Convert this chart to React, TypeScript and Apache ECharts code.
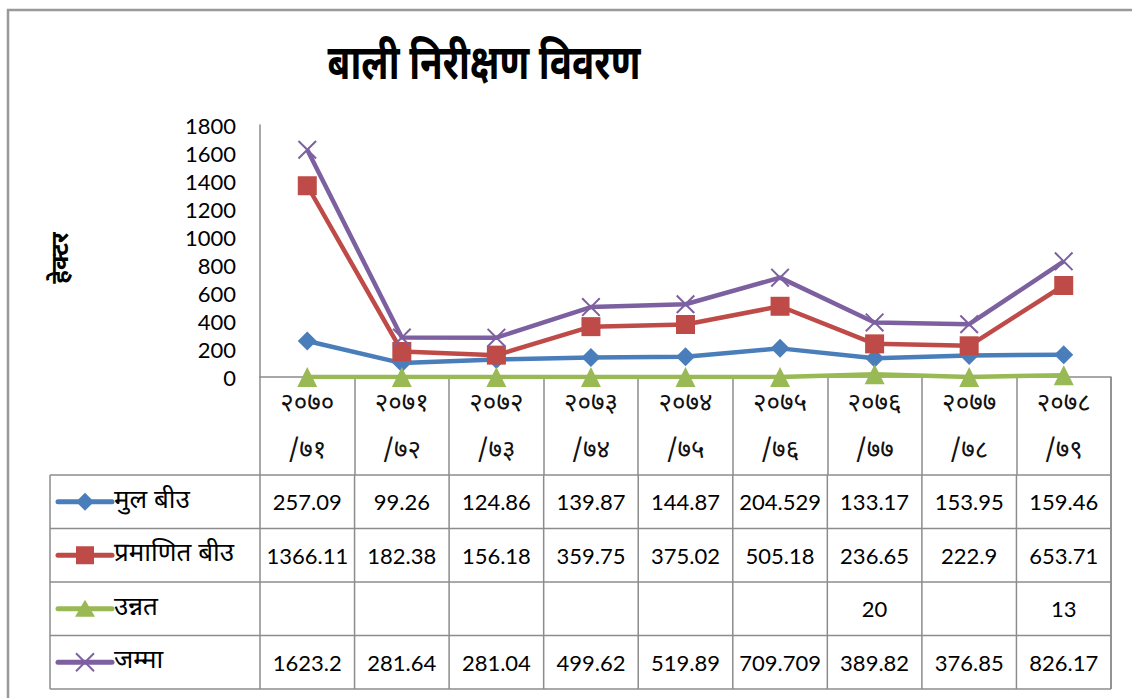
import React, { useEffect, useRef } from "react";
import * as echarts from "echarts";

// ---- data ----
const categories = ["२०७०\n/७१", "२०७१\n/७२", "२०७२\n/७३", "२०७३\n/७४", "२०७४\n/७५", "२०७५\n/७६", "२०७६\n/७७", "२०७७\n/७८", "२०७८\n/७९"];
const mulBeej = [257.09, 99.26, 124.86, 139.87, 144.87, 204.529, 133.17, 153.95, 159.46];
const pramanitBeej = [1366.11, 182.38, 156.18, 359.75, 375.02, 505.18, 236.65, 222.9, 653.71];
// blank cells in the source table (Excel plots blanks as zero)
const unnat: (number | null)[] = [null, null, null, null, null, null, 20, null, 13];
const jamma = [1623.2, 281.64, 281.04, 499.62, 519.89, 709.709, 389.82, 376.85, 826.17];
const seriesNames = ["मुल बीउ", "प्रमाणित बीउ", "उन्नत", "जम्मा"];
const seriesColors = ["#4A7EBB", "#BE4B48", "#98B954", "#7D60A0"];
const titleText = "बाली निरीक्षण विवरण";
const yAxisTitle = "हेक्टर";
const yMin = 0;
const yMax = 1800;
const yInterval = 200;

const X_PATH = "path://M0,1.5 L1.5,0 L10,8.5 L18.5,0 L20,1.5 L11.5,10 L20,18.5 L18.5,20 L10,11.5 L1.5,20 L0,18.5 L8.5,10 Z";
const symbols = ["diamond", "rect", "triangle", X_PATH];
const symbolSizes = [19, 19, 20, 19];

const DEV = "'Noto Sans Devanagari', 'Lohit Devanagari', 'Mangal', 'FreeSans', sans-serif";
const NUM = "Lato, 'Noto Sans', sans-serif";

const GRID = { left: 260, right: 21, top: 125, bottom: 321 };
const TABLE_LEFT = 50;
const AXIS_Y = 377;
const HEADER_BOTTOM = 475;
const ROW_H = 53.5;
const GRID_COLOR = "#8c8c8c";

export default function App() {
  const ref = useRef<HTMLDivElement>(null);
  useEffect(() => {
    document.body.style.margin = "0";
    const chart = echarts.init(ref.current!, null, { renderer: "svg" });
    const allSeries = [mulBeej, pramanitBeej, unnat.map((v) => (v == null ? 0 : v)), jamma];
    chart.setOption({
      animation: false,
      grid: GRID,
      xAxis: {
        type: "category",
        data: categories,
        boundaryGap: true,
        axisLine: { lineStyle: { color: GRID_COLOR, width: 1.5 } },
        axisTick: { show: true, interval: 0, length: HEADER_BOTTOM - AXIS_Y, lineStyle: { color: GRID_COLOR, width: 1.5 } },
        axisLabel: { interval: 0, color: "#111", fontSize: 26, fontWeight: "normal", fontFamily: DEV, lineHeight: 47, margin: 4 },
      },
      yAxis: {
        type: "value",
        min: yMin,
        max: yMax,
        interval: yInterval,
        axisLine: { show: true, lineStyle: { color: GRID_COLOR, width: 1.5 } },
        axisTick: { show: false },
        splitLine: { show: false },
        axisLabel: { color: "#000", fontSize: 22, fontFamily: NUM, margin: 24, formatter: (v: number) => String(v) },
      },
      series: allSeries.map((d, i) => ({
        type: "line",
        name: seriesNames[i],
        data: d,
        symbol: symbols[i],
        symbolSize: symbolSizes[i],
        showAllSymbol: true,
        lineStyle: { color: seriesColors[i], width: 4.5 },
        itemStyle: { color: seriesColors[i] },
        z: i === 2 ? 3 : 2,
      })),
    });

    // build title, frame and data table from the chart's own scale
    const centers = categories.map((_, i) => chart.convertToPixel({ xAxisIndex: 0 }, i) as number);
    const colW = centers.length > 1 ? centers[1] - centers[0] : 94;
    const plotLeft = centers[0] - colW / 2;
    const plotRight = centers[centers.length - 1] + colW / 2;
    const tableBottom = HEADER_BOTTOM + ROW_H * seriesNames.length;

    const g: any[] = [];
    // outer frame
    g.push({ type: "rect", shape: { x: 8, y: 10, width: 1300, height: 900 }, style: { fill: "none", stroke: "#999", lineWidth: 2.5 }, silent: true });
    // title
    g.push({ type: "text", x: 484, y: 68, scaleY: 1.3, style: { text: titleText, font: `bold 37px ${DEV}`, fill: "#000", align: "center", verticalAlign: "middle" } });
    // y axis title
    g.push({ type: "text", x: 62, y: 258, rotation: Math.PI / 2, style: { text: yAxisTitle, font: `bold 24px ${DEV}`, fill: "#000", align: "center", verticalAlign: "middle" } });
    // right border of header area
    g.push({ type: "line", shape: { x1: plotRight, y1: AXIS_Y, x2: plotRight, y2: tableBottom }, style: { stroke: GRID_COLOR, lineWidth: 1.5 } });
    // horizontal table lines
    for (let r = 0; r <= seriesNames.length; r++) {
      const y = HEADER_BOTTOM + r * ROW_H;
      g.push({ type: "line", shape: { x1: TABLE_LEFT, y1: y, x2: plotRight, y2: y }, style: { stroke: GRID_COLOR, lineWidth: 1.5 } });
    }
    // vertical table lines
    g.push({ type: "line", shape: { x1: TABLE_LEFT, y1: HEADER_BOTTOM, x2: TABLE_LEFT, y2: tableBottom }, style: { stroke: GRID_COLOR, lineWidth: 1.5 } });
    for (let c = 0; c <= categories.length; c++) {
      const x = plotLeft + c * colW;
      g.push({ type: "line", shape: { x1: x, y1: HEADER_BOTTOM, x2: x, y2: tableBottom }, style: { stroke: GRID_COLOR, lineWidth: 1.5 } });
    }
    const tableData = [mulBeej, pramanitBeej, unnat, jamma];
    tableData.forEach((row, r) => {
      const cy = HEADER_BOTTOM + r * ROW_H + ROW_H / 2;
      const color = seriesColors[r];
      // legend key
      g.push({ type: "line", shape: { x1: 58, y1: cy, x2: 112, y2: cy }, style: { stroke: color, lineWidth: 5, lineCap: "round" } });
      const mx = 85;
      if (r === 0) g.push({ type: "polygon", shape: { points: [[mx, cy - 9], [mx + 9, cy], [mx, cy + 9], [mx - 9, cy]] }, style: { fill: color } });
      if (r === 1) g.push({ type: "rect", shape: { x: mx - 9, y: cy - 9, width: 18, height: 18 }, style: { fill: color } });
      if (r === 2) g.push({ type: "polygon", shape: { points: [[mx, cy - 9], [mx + 10, cy + 8], [mx - 10, cy + 8]] }, style: { fill: color } });
      if (r === 3) {
        g.push({ type: "line", shape: { x1: mx - 9, y1: cy - 9, x2: mx + 9, y2: cy + 9 }, style: { stroke: color, lineWidth: 2 } });
        g.push({ type: "line", shape: { x1: mx + 9, y1: cy - 9, x2: mx - 9, y2: cy + 9 }, style: { stroke: color, lineWidth: 2 } });
      }
      g.push({ type: "text", x: 114, y: cy, style: { text: seriesNames[r], font: `26px ${DEV}`, fill: "#000", align: "left", verticalAlign: "middle" } });
      row.forEach((v, c) => {
        if (v == null) return;
        g.push({ type: "text", x: centers[c], y: cy, style: { text: String(v), font: `22px ${NUM}`, fill: "#000", align: "center", verticalAlign: "middle" } });
      });
    });
    chart.setOption({ graphic: g });
    return () => chart.dispose();
  }, []);
  return <div ref={ref} style={{ width: 1132, height: 698, background: "#fff" }} />;
}
